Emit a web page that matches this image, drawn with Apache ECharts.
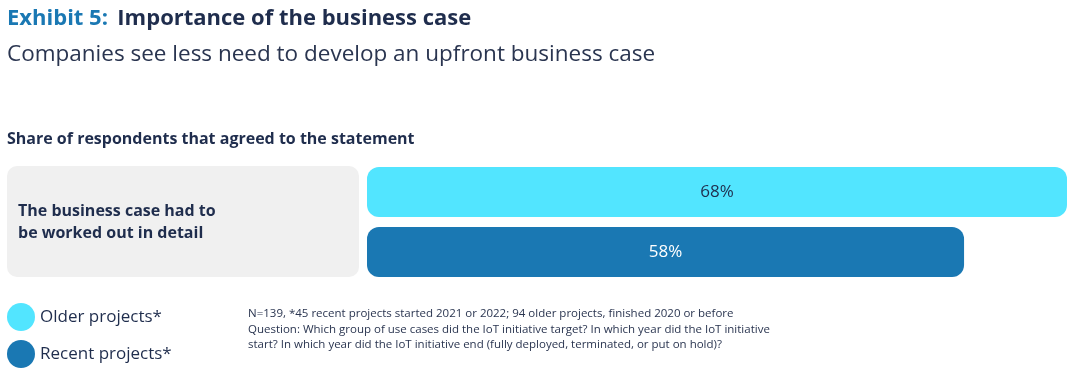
<!DOCTYPE html>
<html>
<head>
<meta charset="utf-8">
<script src="https://cdn.jsdelivr.net/npm/echarts@6/dist/echarts.min.js"></script>
<style>
html,body{margin:0;padding:0;background:#fff;}
#main{width:1080px;height:376px;}
</style>
</head>
<body>
<div id="main"></div>
<script>
// data
var categories = ['The business case had to\nbe worked out in detail'];
var seriesNames = ['Older projects*', 'Recent projects*'];
var olderValues = [68];
var recentValues = [58];

var FONT = '"Open Sans", "Noto Sans", sans-serif';
var navy = '#1f2d4d';
var cyan = '#52e5ff';
var blue = '#1a78b3';

var chart = echarts.init(document.getElementById('main'));
var option = {
	backgroundColor: '#fff',
	animation: false,
	textStyle: { fontFamily: FONT },
	title: {
		left: 2,
		top: 3,
		text: '{a|Exhibit 5:}  {b|Importance of the business case}',
		subtext: 'Companies see less need to develop an upfront business case',
		itemGap: 13,
		textStyle: {
			rich: {
				a: { fontFamily: FONT, fontSize: 22, fontWeight: 'bold', color: blue },
				b: { fontFamily: FONT, fontSize: 22, fontWeight: 'bold', color: navy }
			}
		},
		subtextStyle: { fontFamily: FONT, fontSize: 22.5, color: '#2a3550' }
	},
	legend: [
		{
			left: 7,
			top: 303,
			padding: 0,
			icon: 'circle',
			itemWidth: 28,
			itemHeight: 28,
			selectedMode: false,
			textStyle: { fontFamily: FONT, fontSize: 17, color: navy },
			data: [seriesNames[0]]
		},
		{
			left: 7,
			top: 340,
			padding: 0,
			icon: 'circle',
			itemWidth: 28,
			itemHeight: 28,
			selectedMode: false,
			textStyle: { fontFamily: FONT, fontSize: 17, color: navy },
			data: [seriesNames[1]]
		}
	],
	grid: { left: 367, right: 13, top: 167, height: 110 },
	xAxis: {
		type: 'value',
		min: 0,
		max: 68,
		show: false
	},
	yAxis: {
		type: 'category',
		data: categories,
		inverse: true,
		show: false
	},
	graphic: [
		{
			type: 'text', left: 7, top: 131,
			style: { text: 'Share of respondents that agreed to the statement', fontFamily: FONT, fontSize: 16, fontWeight: 'bold', fill: navy }
		},
		{
			type: 'rect', left: 7, top: 166,
			shape: { width: 352, height: 111, r: 10 },
			style: { fill: '#f0f0f0' }
		},
		{
			type: 'text', left: 18, top: 200,
			style: { text: categories[0], fontFamily: FONT, fontSize: 16, fontWeight: 'bold', fill: navy, lineHeight: 22 }
		},
		{
			type: 'text', left: 248, top: 306,
			style: {
				text: 'N=139, *45 recent projects started 2021 or 2022; 94 older projects, finished 2020 or before\nQuestion: Which group of use cases did the IoT initiative target? In which year did the IoT initiative\nstart? In which year did the IoT initiative end (fully deployed, terminated, or put on hold)?',
				fontFamily: FONT, fontSize: 11.5, fill: '#2a3550', lineHeight: 15.5
			}
		}
	],
	series: [
		{
			name: seriesNames[0],
			type: 'bar',
			data: olderValues,
			barWidth: 50,
			barGap: '20%',
			itemStyle: { color: cyan, borderRadius: 12 },
			label: { show: true, position: 'inside', formatter: '{c}%', fontFamily: FONT, fontSize: 17, color: navy }
		},
		{
			name: seriesNames[1],
			type: 'bar',
			data: recentValues,
			barWidth: 50,
			barGap: '20%',
			itemStyle: { color: blue, borderRadius: 12 },
			label: { show: true, position: 'inside', formatter: '{c}%', fontFamily: FONT, fontSize: 17, color: '#fff' }
		}
	]
};
chart.setOption(option);
</script>
</body>
</html>
